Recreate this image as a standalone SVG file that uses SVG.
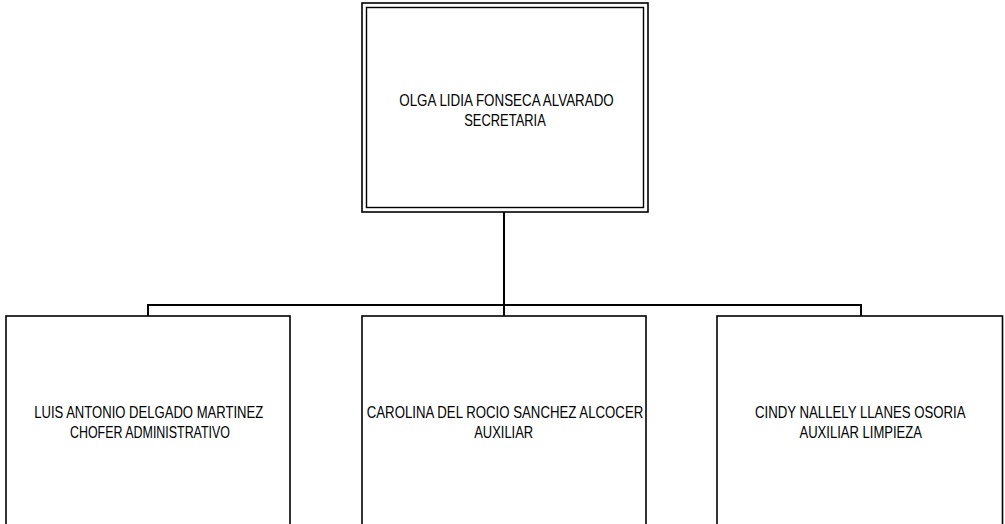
<svg xmlns="http://www.w3.org/2000/svg" width="1005" height="524" viewBox="0 0 1005 524">
<style>
.box{fill:#fff;stroke:#000;stroke-width:1.6}
.dbl{fill:none;stroke:#000;stroke-width:1.4}
.conn{fill:none;stroke:#000;stroke-width:2}
.t{font-family:"Liberation Sans",Arial,sans-serif;font-size:17px;fill:#000;text-anchor:middle}
</style>
<rect width="1005" height="524" fill="#fff"/>
<g id="connectors">
<path class="conn" d="M504,212 V305 M148,305 H861 M148,304 V316 M504,305 V316 M861,304 V316"/>
</g>
<g id="node-olga">
<rect class="box" x="362" y="3" width="286" height="209"/>
<rect class="dbl" x="366.5" y="7.5" width="277" height="200"/>
<text class="t" x="506.5" y="105.5" textLength="214.5" lengthAdjust="spacingAndGlyphs">OLGA LIDIA FONSECA ALVARADO</text>
<text class="t" x="505" y="125.5" textLength="81.5" lengthAdjust="spacingAndGlyphs">SECRETARIA</text>
</g>
<g id="node-luis">
<rect class="box" x="6" y="316" width="284" height="215"/>
<text class="t" x="148.7" y="417.5" textLength="229" lengthAdjust="spacingAndGlyphs">LUIS ANTONIO DELGADO MARTINEZ</text>
<text class="t" x="150" y="437.5" textLength="160" lengthAdjust="spacingAndGlyphs">CHOFER ADMINISTRATIVO</text>
</g>
<g id="node-carolina">
<rect class="box" x="362" y="316" width="284" height="215"/>
<text class="t" x="505" y="417.5" textLength="276.5" lengthAdjust="spacingAndGlyphs">CAROLINA DEL ROCIO SANCHEZ ALCOCER</text>
<text class="t" x="503.7" y="437.5" textLength="59" lengthAdjust="spacingAndGlyphs">AUXILIAR</text>
</g>
<g id="node-cindy">
<rect class="box" x="717" y="316" width="285.5" height="215"/>
<text class="t" x="860.3" y="417.5" textLength="210.5" lengthAdjust="spacingAndGlyphs">CINDY NALLELY LLANES OSORIA</text>
<text class="t" x="860.7" y="437.5" textLength="122.5" lengthAdjust="spacingAndGlyphs">AUXILIAR LIMPIEZA</text>
</g>
</svg>
